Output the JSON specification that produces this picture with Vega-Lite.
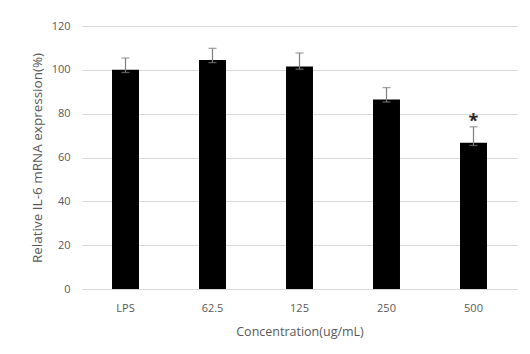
{
  "$schema": "https://vega.github.io/schema/vega-lite/v6.json",
  "width": 435,
  "height": 263,
  "autosize": "none",
  "padding": {"left": 82, "top": 26, "right": 13, "bottom": 65},
  "background": "white",
  "config": {
    "view": {"stroke": null},
    "font": "Open Sans",
    "axis": {"labelColor": "#595959", "titleColor": "#595959", "labelFont": "Open Sans", "titleFont": "Open Sans", "titleFontWeight": "normal", "labelFontSize": 11, "titleFontSize": 12.5}
  },
  "data": {
    "values": [
      {"group": "LPS", "value": 100, "low": 98.8, "high": 105.4, "mark": ""},
      {"group": "62.5", "value": 104.5, "low": 103.3, "high": 109.8, "mark": ""},
      {"group": "125", "value": 101.5, "low": 100.3, "high": 107.7, "mark": ""},
      {"group": "250", "value": 86.5, "low": 85.3, "high": 91.9, "mark": ""},
      {"group": "500", "value": 66.7, "low": 65.5, "high": 74.0, "mark": "*"}
    ]
  },
  "encoding": {
    "x": {
      "field": "group", "type": "nominal", "sort": null,
      "scale": {"paddingInner": 0.69, "paddingOuter": 0.345},
      "axis": {"title": "Concentration(ug/mL)", "labelAngle": 0, "ticks": false, "domain": true, "domainColor": "#d9d9d9", "labelPadding": 13, "titlePadding": 12}
    }
  },
  "layer": [
    {
      "mark": {"type": "bar", "color": "black"},
      "encoding": {
        "y": {
          "field": "value", "type": "quantitative",
          "scale": {"domain": [0, 120]},
          "axis": {"title": "Relative IL-6 mRNA  expression(%)", "titleFontSize": 13.5, "values": [0, 20, 40, 60, 80, 100, 120], "ticks": false, "domain": false, "gridColor": "#d9d9d9", "labelPadding": 12, "titlePadding": 7}
        }
      }
    },
    {
      "mark": {"type": "rule", "color": "#7f7f7f", "strokeWidth": 1.2},
      "encoding": {"y": {"field": "low", "type": "quantitative"}, "y2": {"field": "high"}}
    },
    {
      "mark": {"type": "tick", "color": "#7f7f7f", "thickness": 1.3, "size": 8, "orient": "horizontal"},
      "encoding": {"y": {"field": "high", "type": "quantitative"}}
    },
    {
      "mark": {"type": "tick", "color": "#7f7f7f", "thickness": 1.3, "size": 8, "orient": "horizontal"},
      "encoding": {"y": {"field": "low", "type": "quantitative"}}
    },
    {
      "mark": {"type": "text", "fontSize": 18, "fontWeight": "bold", "color": "#262626", "dy": 6},
      "encoding": {"y": {"datum": 79}, "text": {"field": "mark"}}
    }
  ]
}
